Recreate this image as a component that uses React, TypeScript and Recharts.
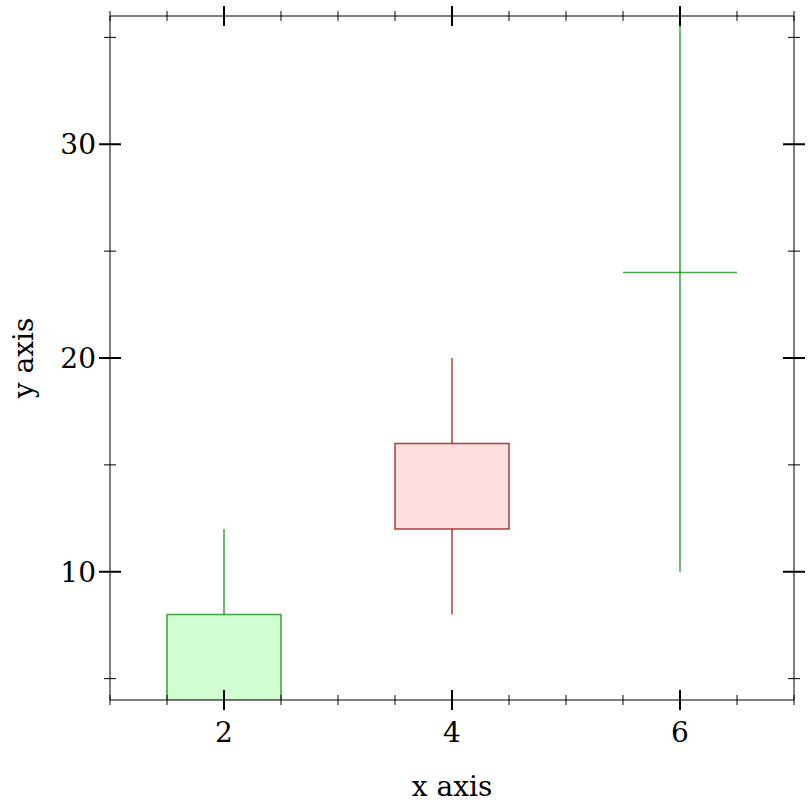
import React from 'react';
import { ComposedChart, Bar, XAxis, YAxis, Label } from 'recharts';

// ---- data ----
const xs = [2, 4, 6];
const opens = [4, 16, 24];
const closes = [8, 12, 24];
const highs = [12, 20, 36];
const lows = [4, 8, 10];

const xTicks = [1, 1.5, 2, 2.5, 3, 3.5, 4, 4.5, 5, 5.5, 6, 6.5, 7];
const xMajor = [2, 4, 6];
const yTicks = [5, 10, 15, 20, 25, 30, 35];
const yMajor = [10, 20, 30];

const data = xs.map((x, i) => ({
  x,
  open: opens[i],
  close: closes[i],
  high: highs[i],
  low: lows[i],
  range: [lows[i], highs[i]],
}));

const FONT = 'DejaVu Serif, serif';
const FS = 28;

const UP_STROKE = 'rgba(0,128,0,0.7)';
const UP_FILL = 'rgba(0,255,0,0.18)';
const DOWN_STROKE = 'rgba(139,0,0,0.7)';
const DOWN_FILL = 'rgba(255,0,30,0.13)';

const Candle = (props: any) => {
  const { x, y, width, height, payload } = props;
  const top = Math.min(y, y + height);
  const bottom = Math.max(y, y + height);
  const { open, close, high, low } = payload;
  const ppu = (bottom - top) / (high - low);
  const py = (v: number) => bottom - (v - low) * ppu;
  const cx = x + width / 2;
  const up = close >= open;
  const stroke = up ? UP_STROKE : DOWN_STROKE;
  const fill = up ? UP_FILL : DOWN_FILL;
  const bTop = py(Math.max(open, close));
  const bBot = py(Math.min(open, close));
  return (
    <g>
      <line x1={cx} x2={cx} y1={py(high)} y2={bTop} stroke={stroke} strokeWidth={1.6} />
      <line x1={cx} x2={cx} y1={bBot} y2={py(low)} stroke={stroke} strokeWidth={1.6} />
      {bBot - bTop > 0.5 ? (
        <rect x={x} y={bTop} width={width} height={bBot - bTop} fill={fill} stroke={stroke} strokeWidth={1.6} />
      ) : (
        <line x1={x} x2={x + width} y1={bTop} y2={bTop} stroke={stroke} strokeWidth={1.6} />
      )}
    </g>
  );
};

const makeXTick = (withLabel: boolean) => (props: any) => {
  const { x, y, payload } = props;
  const v = payload.value;
  const major = xMajor.includes(v);
  return (
    <g>
      {major ? (
        <line x1={x} x2={x} y1={y - 10} y2={y + 10} stroke="#000" strokeWidth={2} />
      ) : (
        <line x1={x} x2={x} y1={y - 5} y2={y + 5} stroke="#000" strokeWidth={1} />
      )}
      {withLabel && major ? (
        <text x={x} y={y + 42} textAnchor="middle" fontFamily={FONT} fontSize={FS} fill="#000">
          {v}
        </text>
      ) : null}
    </g>
  );
};

const makeYTick = (withLabel: boolean) => (props: any) => {
  const { x, y, payload } = props;
  const v = payload.value;
  const major = yMajor.includes(v);
  return (
    <g>
      {major ? (
        <line x1={x - 11} x2={x + 11} y1={y} y2={y} stroke="#000" strokeWidth={2} />
      ) : (
        <line x1={x - 6} x2={x + 6} y1={y} y2={y} stroke="#000" strokeWidth={1} />
      )}
      {withLabel && major ? (
        <text x={x - 14} y={y + 10} textAnchor="end" fontFamily={FONT} fontSize={FS} fill="#000">
          {v}
        </text>
      ) : null}
    </g>
  );
};

export default function App() {
  return (
    <div style={{ position: 'absolute', left: 0, top: 0, background: '#fff' }}>
      <ComposedChart
        width={812}
        height={812}
        data={data}
        margin={{ top: 15, right: 17, left: 0, bottom: 0 }}
        barCategoryGap="25%"
      >
        <XAxis
          dataKey="x"
          type="number"
          domain={[1, 7]}
          allowDataOverflow
          ticks={xTicks}
          interval={0}
          height={112}
          tickSize={0}
          tickMargin={0}
          tickLine={false}
          axisLine={{ stroke: '#000', strokeWidth: 1 }}
          tick={makeXTick(true)}
        >
          <Label
            value="x axis"
            position="insideBottom"
            offset={16}
            style={{ fontFamily: FONT, fontSize: FS, fill: '#000' }}
          />
        </XAxis>
        <XAxis
          xAxisId="top"
          orientation="top"
          dataKey="x"
          type="number"
          domain={[1, 7]}
          allowDataOverflow
          ticks={xTicks}
          interval={0}
          height={1}
          tickSize={0}
          tickMargin={0}
          tickLine={false}
          axisLine={{ stroke: '#000', strokeWidth: 1 }}
          tick={makeXTick(false)}
        />
        <YAxis
          type="number"
          domain={[4, 36]}
          allowDataOverflow
          ticks={yTicks}
          interval={0}
          width={110}
          tickSize={0}
          tickMargin={0}
          tickLine={false}
          axisLine={{ stroke: '#000', strokeWidth: 1 }}
          tick={makeYTick(true)}
        >
          <Label
            value="y axis"
            angle={-90}
            position="insideLeft"
            offset={23}
            style={{ fontFamily: FONT, fontSize: FS, fill: '#000', textAnchor: 'middle' }}
          />
        </YAxis>
        <YAxis
          yAxisId="right"
          orientation="right"
          type="number"
          domain={[4, 36]}
          allowDataOverflow
          ticks={yTicks}
          interval={0}
          width={1}
          tickSize={0}
          tickMargin={0}
          tickLine={false}
          axisLine={{ stroke: '#000', strokeWidth: 1 }}
          tick={makeYTick(false)}
        />
        <Bar
          dataKey="range"
          shape={(p: any) => <Candle {...p} />}
          isAnimationActive={false}
          {...({ zIndex: 1000 } as any)}
        />
      </ComposedChart>
    </div>
  );
}
